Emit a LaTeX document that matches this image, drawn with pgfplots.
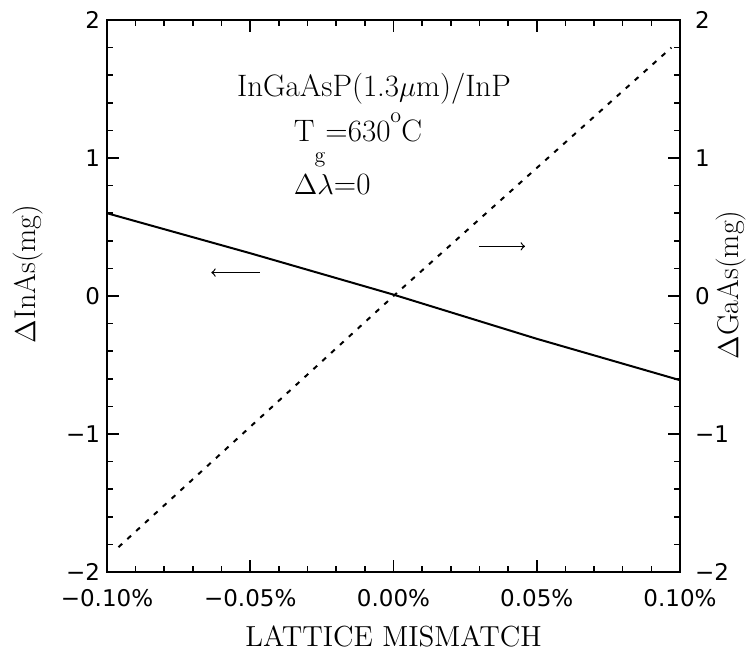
\documentclass[border=0pt]{standalone}
\usepackage{pgfplots}
\pgfplotsset{compat=1.18}
\usepackage{fontspec}
\newfontfamily\tickfont{DejaVu Sans}
\begin{document}
\begin{tikzpicture}
\path[use as bounding box] (-53.5pt,-44.5pt) rectangle (319.5pt,286pt);
\begin{axis}[
  at={(0,0)}, anchor=south west,
  scale only axis, width=286.5pt, height=276pt,
  xmin=-0.1, xmax=0.1, ymin=-2, ymax=2,
  xtick={-0.1,-0.05,0,0.05,0.1},
  xticklabels={−0.10\%,−0.05\%,0.00\%,0.05\%,0.10\%},
  ytick={-2,-1,0,1,2},
  yticklabels={−2,−1,0,1,2},
  minor x tick num=4, minor y tick num=4,
  xtick pos=both, ytick pos=both,
  xticklabel pos=bottom, yticklabel pos=left,
  major tick length=6pt, minor tick length=3pt,
  tick style={line width=0.8pt, black},
  axis line style={line width=1.2pt},
  ticklabel style={font=\tickfont\fontsize{11.5}{13}\selectfont},
  xticklabel style={yshift=-5pt},
  clip=false,
]
\addplot[black, line width=1pt] coordinates {(-0.1,0.60) (-0.05,0.31) (0,0.01) (0.05,-0.31) (0.1,-0.61)};
\addplot[black, line width=1pt, dash pattern=on 2.5pt off 3.5pt] coordinates {(-0.096,-1.82) (0,0.0) (0.097,1.80)};
\node[font=\fontsize{15.5}{18}\selectfont] at (axis cs:-0.0068,1.50) {InGaAsP(1.3$\mu$m)/InP};
\node[anchor=west, font=\fontsize{15.5}{18}\selectfont] at (axis cs:-0.0372,1.13) {T\raisebox{-0.7em}{\fontsize{11}{13}\selectfont g}=630\raisebox{0.6em}{\fontsize{11}{13}\selectfont o}C};
\node[anchor=west, font=\fontsize{15.5}{18}\selectfont] at (axis cs:-0.0372,0.81) {$\Delta\lambda$=0};
\draw[-to, line width=0.6pt] (axis cs:-0.0466,0.17) -- (axis cs:-0.0636,0.17);
\draw[-to, line width=0.6pt] (axis cs:0.0298,0.36) -- (axis cs:0.0459,0.36);
\node[rotate=90, font=\fontsize{15}{18}\selectfont] at ([xshift=-39.5pt]rel axis cs:0,0.54) {$\Delta$InAs(mg)};
\node[rotate=90, font=\fontsize{15}{18}\selectfont] at ([xshift=25.5pt]rel axis cs:1,0.52) {$\Delta$GaAs(mg)};
\node[font=\fontsize{14.5}{17}\selectfont] at ([yshift=-32pt]rel axis cs:0.5,0) {LATTICE MISMATCH};
\end{axis}
\begin{axis}[
  at={(0,0)}, anchor=south west,
  scale only axis, width=286.5pt, height=276pt,
  xmin=-0.1, xmax=0.1, ymin=-2, ymax=2,
  axis x line=none, axis y line*=right,
  y axis line style={draw=none},
  ytick={-2,-1,0,1,2},
  yticklabels={−2,−1,0,1,2},
  major tick length=0pt, minor y tick num=0,
  ticklabel style={font=\tickfont\fontsize{11.5}{13}\selectfont},
  yticklabel style={xshift=4pt},
]
\end{axis}
\end{tikzpicture}
\end{document}
